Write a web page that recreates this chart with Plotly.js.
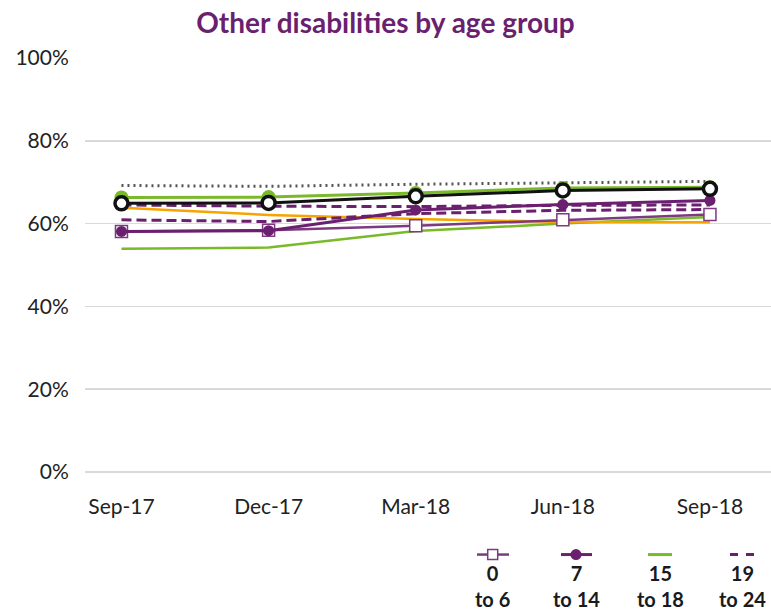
<!DOCTYPE html>
<html>
<head>
<meta charset="utf-8">
<script src="https://cdn.plot.ly/plotly-3.0.1.min.js"></script>
<style>html,body{margin:0;padding:0;background:#fff;}#chart{width:771px;height:614px;}</style>
</head>
<body>
<div id="chart"></div>
<script>
// ---- data ----
var categories = ['Sep-17', 'Dec-17', 'Mar-18', 'Jun-18', 'Sep-18'];
var overallDotted = [69.2, 69.0, 69.5, 69.9, 70.2];
var greenUpper = [66.3, 66.4, 67.4, 68.6, 68.8];
var blackSeries = [64.9, 65.0, 66.6, 68.0, 68.4];
var dashedUpper = [64.5, 64.2, 64.1, 64.4, 64.5];
var orangeSeries = [63.8, 62.1, 61.1, 60.4, 60.3];
var age0to6 = [58.1, 58.4, 59.5, 60.9, 62.2];
var age7to14 = [58.1, 58.3, 63.3, 64.6, 65.6];
var age15to18 = [53.9, 54.2, 58.2, 60.0, 61.6];
var age19to24 = [60.9, 60.5, 62.4, 63.2, 63.4];
var legendLabels = ['0<br>to 6', '7<br>to 14', '15<br>to 18', '19<br>to 24'];
var yTickVals = [0, 20, 40, 60, 80, 100];
var yTickText = ['0%', '20%', '40%', '60%', '80%', '100%'];

var PURPLE = '#6b1f6f';
var PURPLE_L = '#7d3a80';
var GREEN = '#7ab929';
var ORANGE = '#f5a400';
var FONT = 'Lato, "Open Sans", sans-serif';

var xIdx = categories.map(function (c, i) { return i; });

function tr(y, opts) {
  var t = { x: xIdx, y: y, type: 'scatter', mode: 'lines', hoverinfo: 'skip', showlegend: false };
  for (var k in opts) t[k] = opts[k];
  return t;
}

var traces = [
  tr(overallDotted, { line: { color: '#555555', width: 3, dash: '2px,4px' } }),
  tr(age15to18, { line: { color: GREEN, width: 2.5 } }),
  tr(orangeSeries, { line: { color: ORANGE, width: 2.5 } }),
  tr(dashedUpper, { line: { color: PURPLE, width: 3, dash: '10px,5px' } }),
  tr(age19to24, { line: { color: PURPLE, width: 3, dash: '10px,5px' } }),
  tr(age0to6, { mode: 'lines+markers', line: { color: PURPLE_L, width: 2.5 },
    marker: { symbol: 'square', size: 12, color: '#ffffff', line: { color: PURPLE_L, width: 1.5 } } }),
  tr(age7to14, { mode: 'lines+markers', line: { color: PURPLE, width: 3 },
    marker: { symbol: 'circle', size: 11, color: PURPLE } }),
  tr(greenUpper, { mode: 'lines+markers', line: { color: GREEN, width: 3 },
    marker: { symbol: 'circle', size: 14, color: GREEN } }),
  tr(blackSeries, { mode: 'lines+markers', line: { color: '#111111', width: 3 },
    marker: { symbol: 'circle', size: 13, color: '#ffffff', line: { color: '#111111', width: 3.5 } } })
];

// layout geometry (pixels)
var L = 85, R = 0, T = 57.5, B = 142.3, W = 771, H = 614;
var pw = W - L - R, ph = H - T - B;
function xp(px) { return (px - L) / pw; }
function yp(py) { return (H - B - py) / ph; }

var legendX = [492.7, 576, 660, 742];
var legendLineY = 554.3;
var shapes = [];
var annotations = [];
// legend item 1: line + open square
shapes.push({ type: 'line', xref: 'paper', yref: 'paper', x0: xp(477), x1: xp(509), y0: yp(legendLineY), y1: yp(legendLineY), line: { color: PURPLE_L, width: 2.5 } });
shapes.push({ type: 'rect', xref: 'paper', yref: 'paper', x0: xp(legendX[0] - 5), x1: xp(legendX[0] + 5), y0: yp(legendLineY + 5), y1: yp(legendLineY - 5), fillcolor: '#ffffff', line: { color: PURPLE_L, width: 1.5 } });
// item 2: line + filled circle
shapes.push({ type: 'line', xref: 'paper', yref: 'paper', x0: xp(561), x1: xp(592), y0: yp(legendLineY), y1: yp(legendLineY), line: { color: PURPLE, width: 3 } });
shapes.push({ type: 'circle', xref: 'paper', yref: 'paper', x0: xp(legendX[1] - 5.5), x1: xp(legendX[1] + 5.5), y0: yp(legendLineY + 5.5), y1: yp(legendLineY - 5.5), fillcolor: PURPLE, line: { color: PURPLE, width: 0 } });
// item 3: green line
shapes.push({ type: 'line', xref: 'paper', yref: 'paper', x0: xp(648), x1: xp(672), y0: yp(legendLineY), y1: yp(legendLineY), line: { color: GREEN, width: 3 } });
// item 4: dashed purple
shapes.push({ type: 'line', xref: 'paper', yref: 'paper', x0: xp(730), x1: xp(755), y0: yp(legendLineY), y1: yp(legendLineY), line: { color: PURPLE, width: 3, dash: '8px,8px' } });

for (var i = 0; i < legendLabels.length; i++) {
  annotations.push({
    xref: 'paper', yref: 'paper', x: xp(legendX[i]), y: yp(586),
    xanchor: 'center', yanchor: 'middle', showarrow: false,
    text: '<b>' + legendLabels[i] + '</b>',
    font: { family: FONT, size: 20, color: '#1a1a1a' }, align: 'center'
  });
}

var layout = {
  width: W, height: H,
  margin: { l: L, r: R, t: T, b: B, pad: 0 },
  paper_bgcolor: '#ffffff', plot_bgcolor: '#ffffff',
  showlegend: false,
  title: {
    text: '<b>Other disabilities by age group</b>',
    font: { family: FONT, size: 28, color: PURPLE },
    x: 0.5, xanchor: 'center', xref: 'container', y: 1 - 23 / 614, yanchor: 'middle', yref: 'container'
  },
  xaxis: {
    range: [-0.248, 4.415], tickvals: xIdx, ticktext: categories,
    showgrid: false, zeroline: false, showline: false,
    ticks: 'outside', ticklen: 16, tickcolor: 'rgba(0,0,0,0)',
    tickfont: { family: FONT, size: 21, color: '#222222' }, fixedrange: true
  },
  yaxis: {
    range: [0, 100], tickvals: yTickVals, ticktext: yTickText,
    showgrid: true, gridcolor: '#d9d9d9', gridwidth: 1.5,
    zeroline: true, zerolinecolor: '#d9d9d9', zerolinewidth: 1.5, showline: false,
    ticks: 'outside', ticklen: 11, tickcolor: 'rgba(0,0,0,0)',
    tickfont: { family: FONT, size: 21, color: '#222222' }, fixedrange: true
  },
  shapes: shapes,
  annotations: annotations
};

Plotly.newPlot('chart', traces, layout, { displayModeBar: false, staticPlot: true });
</script>
</body>
</html>
